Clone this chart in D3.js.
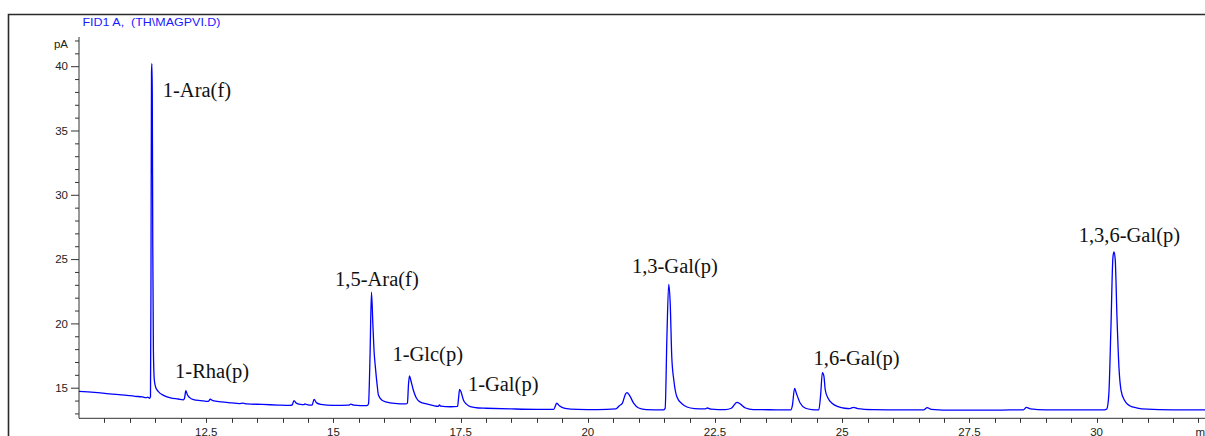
<!DOCTYPE html>
<html>
<head>
<meta charset="utf-8">
<script src="https://cdn.jsdelivr.net/npm/d3@7"></script>
<style>
  html, body { margin: 0; padding: 0; background: #fff; }
  svg { display: block; }
</style>
</head>
<body>
<svg id="chart" width="1205" height="436"></svg>
<script>
// ---------- DATA ----------
const title = "FID1 A,  (TH\\MAGPVI.D)";
const yUnit = "pA";
const xUnit = "min";

const xTickValues = [12.5, 15, 17.5, 20, 22.5, 25, 27.5, 30];
const xTickLabels = ["12.5", "15", "17.5", "20", "22.5", "25", "27.5", "30"];
const yTickValues = [15, 20, 25, 30, 35, 40];
const yTickLabels = ["15", "20", "25", "30", "35", "40"];

// retention time (min)
const times = [
  10.00, 10.30, 10.60, 10.90, 11.10, 11.25, 11.32, 11.35, 11.39, 11.405,
  11.415, 11.425, 11.432, 11.440, 11.450, 11.462, 11.480, 11.510, 11.560, 11.660,
  11.800, 11.950, 12.050, 12.075, 12.100, 12.130, 12.170, 12.250, 12.400, 12.540,
  12.580, 12.630, 12.800, 13.000, 13.150, 13.220, 13.300, 13.600, 13.900, 14.150,
  14.190, 14.225, 14.270, 14.350, 14.420, 14.440, 14.480, 14.580, 14.620, 14.670,
  14.750, 15.000, 15.300, 15.340, 15.400, 15.660, 15.690, 15.720, 15.748, 15.775,
  15.800, 15.825, 15.860, 15.885, 15.950, 16.050, 16.200, 16.420, 16.455, 16.475,
  16.495, 16.520, 16.570, 16.630, 16.700, 16.850, 16.970, 17.060, 17.085, 17.110,
  17.300, 17.440, 17.460, 17.480, 17.510, 17.555, 17.620, 17.690, 17.850, 18.000,
  18.500, 19.000, 19.330, 19.390, 19.440, 19.550, 19.800, 20.200, 20.550, 20.620,
  20.680, 20.740, 20.770, 20.820, 20.900, 21.000, 21.150, 21.480, 21.520, 21.555,
  21.590, 21.620, 21.650, 21.690, 21.750, 21.850, 21.950, 22.100, 22.300, 22.350,
  22.420, 22.700, 22.820, 22.930, 23.000, 23.100, 23.250, 23.700, 23.990, 24.020,
  24.064, 24.100, 24.176, 24.280, 24.400, 24.540, 24.575, 24.610, 24.640, 24.667,
  24.720, 24.800, 24.920, 25.050, 25.150, 25.220, 25.300, 25.600, 26.200, 26.600,
  26.670, 26.750, 27.200, 27.800, 28.300, 28.560, 28.620, 28.700, 29.000, 29.600,
  30.150, 30.200, 30.240, 30.280, 30.320, 30.340, 30.365, 30.400, 30.440, 30.480,
  30.550, 30.650, 30.800, 31.000, 31.500, 32.130
];
// detector signal (pA)
const signal = [
  14.72, 14.64, 14.52, 14.42, 14.33, 14.28, 14.22, 14.26, 14.18, 14.30,
  24.00, 39.50, 40.20, 38.00, 26.00, 18.00, 15.60, 15.00, 14.70, 14.40,
  14.20, 14.12, 14.06, 14.20, 14.77, 14.45, 14.25, 14.08, 14.00, 13.93,
  14.10, 14.00, 13.90, 13.82, 13.76, 13.80, 13.74, 13.70, 13.65, 13.62,
  13.66, 14.00, 13.80, 13.70, 13.68, 13.74, 13.68, 13.64, 14.08, 13.82,
  13.70, 13.62, 13.64, 13.72, 13.64, 13.60, 13.75, 17.50, 22.42, 20.00,
  17.80, 16.60, 15.20, 14.43, 14.05, 13.88, 13.78, 13.74, 13.80, 15.20,
  15.91, 15.60, 14.82, 14.20, 13.90, 13.72, 13.60, 13.55, 13.66, 13.56,
  13.52, 13.55, 14.20, 14.87, 14.65, 14.04, 13.70, 13.52, 13.42, 13.40,
  13.35, 13.32, 13.32, 13.79, 13.60, 13.40, 13.32, 13.30, 13.35, 13.60,
  13.80, 14.50, 14.61, 14.40, 13.80, 13.42, 13.30, 13.28, 13.40, 19.00,
  23.04, 21.50, 17.40, 15.60, 14.30, 13.75, 13.50, 13.38, 13.35, 13.42,
  13.34, 13.30, 13.40, 13.86, 13.72, 13.42, 13.30, 13.28, 13.27, 13.60,
  14.95, 14.55, 13.79, 13.40, 13.30, 13.28, 14.40, 16.17, 15.90, 14.82,
  14.20, 13.79, 13.52, 13.40, 13.38, 13.47, 13.38, 13.30, 13.27, 13.28,
  13.45, 13.32, 13.25, 13.25, 13.27, 13.28, 13.47, 13.35, 13.28, 13.27,
  13.28, 13.35, 14.50, 19.50, 25.10, 25.55, 25.00, 20.50, 16.50, 14.80,
  14.00, 13.60, 13.42, 13.33, 13.28, 13.27
];

// peak annotations (text and anchor in data units: min, pA)
const peakNames  = ["1-Ara(f)", "1-Rha(p)", "1,5-Ara(f)", "1-Glc(p)", "1-Gal(p)", "1,3-Gal(p)", "1,6-Gal(p)", "1,3,6-Gal(p)"];
const peakLabelT = [11.646, 11.888, 15.033, 16.160, 17.643, 20.867, 24.438, 29.648];
const peakLabelV = [37.60, 15.73, 22.93, 17.10, 14.77, 23.90, 16.77, 26.35];

// ---------- DRAW ----------
const svg = d3.select("#chart");
const W = 1205, H = 436;
const axisColor = "#333";
const sans = "'Liberation Sans', Arial, sans-serif";
const serif = "'Liberation Serif', 'Times New Roman', serif";

const x = d3.scaleLinear().domain([10, 32.13]).range([79, 1205]);
const y = d3.scaleLinear().domain([12.62, 42.27]).range([418.3, 37]);

// outer frame (left and top)
svg.append("path")
  .attr("d", `M8.5,${H} V14.5 H${W}`)
  .attr("fill", "none").attr("stroke", "#2a2a2a").attr("stroke-width", 1.6);

// title
svg.append("text")
  .attr("x", 82.5).attr("y", 26)
  .attr("font-family", sans).attr("font-size", 11)
  .attr("fill", "#1a1aff")
  .style("white-space", "pre")
  .attr("textLength", 138).attr("lengthAdjust", "spacingAndGlyphs")
  .text(title);

// Y axis
const yAxisG = svg.append("g").attr("transform", "translate(79,0)");
yAxisG.append("line").attr("x1", 0).attr("x2", 0).attr("y1", 37).attr("y2", 418.3)
  .attr("stroke", axisColor).attr("stroke-width", 1);
const yMinor = d3.range(13, 43, 1);
yAxisG.selectAll("line.minor").data(yMinor).join("line")
  .attr("class", "minor")
  .attr("x1", d => yTickValues.includes(d) ? -8 : -4).attr("x2", 0)
  .attr("y1", d => y(d) + 0.5).attr("y2", d => y(d) + 0.5)
  .attr("stroke", axisColor).attr("stroke-width", 1);
yAxisG.selectAll("text.ylab").data(yTickValues).join("text")
  .attr("class", "ylab")
  .attr("x", -11).attr("y", d => y(d) + 4.2)
  .attr("text-anchor", "end")
  .attr("font-family", sans).attr("font-size", 11.5).attr("fill", "#222")
  .text((d, i) => yTickLabels[i]);
svg.append("text")
  .attr("x", 68).attr("y", 48.3).attr("text-anchor", "end")
  .attr("font-family", sans).attr("font-size", 11.5).attr("fill", "#222")
  .text(yUnit);

// X axis
const xAxisG = svg.append("g").attr("transform", "translate(0,418.3)");
xAxisG.append("line").attr("x1", 79).attr("x2", W).attr("y1", 0).attr("y2", 0)
  .attr("stroke", axisColor).attr("stroke-width", 1);
const xMinor = d3.range(10.5, 32.01, 0.5);
xAxisG.selectAll("line.xt").data(xMinor).join("line")
  .attr("class", "xt")
  .attr("x1", d => Math.round(x(d)) + 0.5).attr("x2", d => Math.round(x(d)) + 0.5)
  .attr("y1", 0).attr("y2", 4.5)
  .attr("stroke", axisColor).attr("stroke-width", 1);
xAxisG.selectAll("text.xlab").data(xTickValues).join("text")
  .attr("class", "xlab")
  .attr("x", d => x(d)).attr("y", 17.4)
  .attr("text-anchor", "middle")
  .attr("font-family", sans).attr("font-size", 11.5).attr("fill", "#222")
  .text((d, i) => xTickLabels[i]);
xAxisG.append("text")
  .attr("x", 1195.5).attr("y", 17.4)
  .attr("font-family", sans).attr("font-size", 11.5).attr("fill", "#222")
  .text(xUnit);

// trace
const pts = times.map((t, i) => [t, signal[i]]);
const line = d3.line().x(d => x(d[0])).y(d => y(d[1])).curve(d3.curveMonotoneX);
svg.append("path")
  .datum(pts)
  .attr("d", line)
  .attr("fill", "none")
  .attr("stroke", "#0000ff")
  .attr("stroke-width", 1.3)
  .attr("stroke-linejoin", "round");

// peak labels
svg.selectAll("text.peak").data(peakNames).join("text")
  .attr("class", "peak")
  .attr("x", (d, i) => x(peakLabelT[i]))
  .attr("y", (d, i) => y(peakLabelV[i]))
  .attr("font-family", serif).attr("font-size", 20.5).attr("fill", "#111")
  .text(d => d);
</script>
</body>
</html>
